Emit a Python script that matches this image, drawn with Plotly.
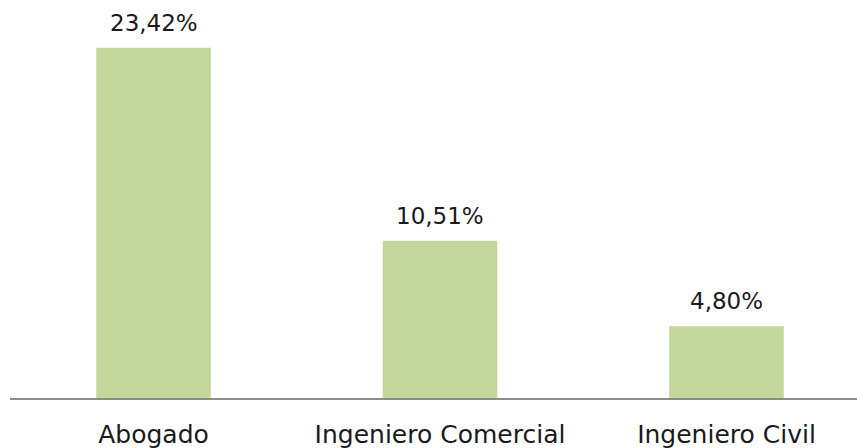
import plotly.graph_objects as go

categories = ["Abogado", "Ingeniero Comercial", "Ingeniero Civil"]
values = [23.42, 10.51, 4.80]
labels = ["23,42%", "10,51%", "4,80%"]

FONT = "DejaVu Sans, Century Gothic, sans-serif"

fig = go.Figure()
fig.add_trace(go.Bar(
    x=list(range(len(categories))),
    y=values,
    width=0.4,
    marker=dict(color="#C4D79B", line=dict(width=0)),
    hoverinfo="skip",
))

for i, (v, t) in enumerate(zip(values, labels)):
    fig.add_annotation(x=i, y=v, text=t, showarrow=False, yanchor="bottom",
                       yshift=10, font=dict(family=FONT, size=23, color="#1a1a1a"))

fig.update_layout(
    width=857, height=448,
    margin=dict(l=10, r=0, t=24, b=50),
    paper_bgcolor="white", plot_bgcolor="white",
    showlegend=False,
    bargap=0.6,
    font=dict(family=FONT, size=25, color="#1a1a1a"),
)
fig.update_xaxes(
    range=[-0.5009, 2.4555],
    tickmode="array", tickvals=list(range(len(categories))), ticktext=categories,
    showline=True, linecolor="#8c8c8c", linewidth=2,
    showgrid=False, zeroline=False, automargin=False,
    ticks="outside", ticklen=0, ticklabelstandoff=13,
    tickfont=dict(family=FONT, size=25, color="#1a1a1a"),
)
fig.update_yaxes(range=[0, 25], visible=False, showgrid=False, zeroline=False,
                 automargin=False)

fig.write_html("out.html",
               config={"displayModeBar": False, "staticPlot": True},
               post_script="document.body.style.margin='0px';document.body.style.overflow='hidden';")
